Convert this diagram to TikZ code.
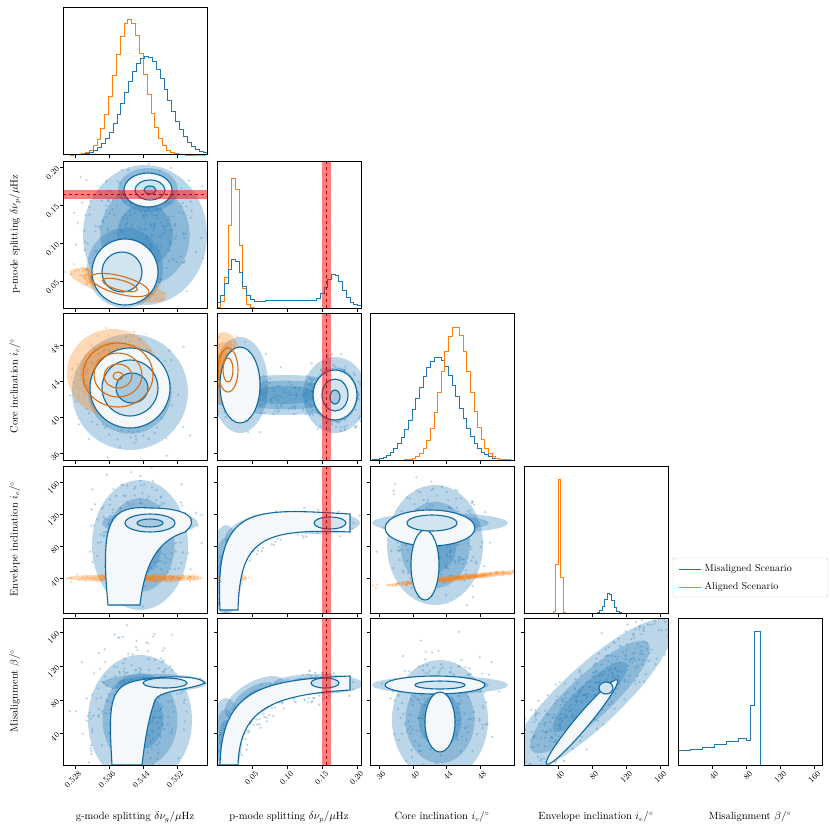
\documentclass[tikz,border=0pt]{standalone}
\usepackage{amsmath}
\definecolor{mblue}{HTML}{1F77B4}
\definecolor{cblue}{HTML}{0E6AA0}
\definecolor{morange}{HTML}{FF7F0E}
\tikzset{
  panel/.style={draw=black, line width=0.6pt},
  hist/.style={line width=0.8pt},
  ctr/.style={draw=cblue, line width=1.1pt},
  octr/.style={draw=morange!85!black, line width=1.1pt},
  lev/.style={fill=mblue!#1!white},
  dot/.style={fill opacity=0.3},
  haze/.style={fill opacity=0.3},
  tick/.style={line width=0.5pt},
  ticklab/.style={font=\fontsize{8.5}{9}\selectfont, rotate=45, inner sep=1pt},
  axlab/.style={font=\fontsize{10.5}{12}\selectfont},
  leglab/.style={font=\fontsize{10}{12}\selectfont},
  band/.style={fill=red, fill opacity=0.5},
  bandline/.style={draw=red!70!black, dashed, line width=0.9pt},
}
% gaussian-like cloud: cx cy sx sy n colour angle
\newcommand{\cloud}[7]{%
  \foreach \k in {1,...,#5}{
    \pgfmathsetmacro{\ua}{#3*(rand+rand+rand)/1.7}
    \pgfmathsetmacro{\ub}{#4*(rand+rand+rand)/1.7}
    \fill[#6, dot] ({#1+\ua*cos(#7)-\ub*sin(#7)},{#2+\ua*sin(#7)+\ub*cos(#7)}) circle (1.3);
  }}
% dense core of a cloud: cx cy rx ry angle colour
\newcommand{\blob}[6]{%
  \foreach \s in {1,0.72,0.45}
    \fill[#6, haze, rotate around={-#5:(#1,#2)}] (#1,#2) ellipse [x radius=\s*#3, y radius=\s*#4];
}
% cloud along a quadratic curve: x0 y0 x1 y1 x2 y2 spread n colour
\newcommand{\arccloud}[9]{%
  \foreach \k in {1,...,#8}{
    \pgfmathsetmacro{\tt}{rnd}
    \pgfmathsetmacro{\ua}{(1-\tt)^2*#1+2*\tt*(1-\tt)*#3+\tt^2*#5+#7*(rand+rand)/1.4}
    \pgfmathsetmacro{\ub}{(1-\tt)^2*#2+2*\tt*(1-\tt)*#4+\tt^2*#6+#7*(rand+rand)/1.4}
    \fill[#9, dot] (\ua,\ub) circle (1.3);
  }}
\begin{document}
\begin{tikzpicture}[x=1pt, y=-1pt]
  \useasboundingbox (0,0) rectangle (830,831);
  \pgfmathsetseed{42}
  % ---- row 1: g-mode histogram
  \draw[hist, morange] plot[const plot, domain=70:205, samples=36]
    (\x,{155-136*exp(-((\x-128)^2)/(2*15^2))});
  \draw[hist, mblue] plot[const plot, domain=70:207, samples=36]
    (\x,{155-99*exp(-((\x-145)^2)/(2*21^2))});
  % ---- row 2
  \begin{scope}
    \clip (63,161) rectangle (207,308);
    \cloud{140}{225}{50}{50}{260}{mblue}{0}
    \blob{145}{235}{62}{70}{0}{mblue}
    \blob{148}{190}{30}{22}{0}{mblue}
    \blob{125}{268}{38}{40}{0}{mblue}
    \cloud{120}{283}{35}{9}{180}{morange}{15}
    \blob{118}{285}{50}{12}{15}{morange}
    \draw[ctr, lev=5] (148,190) ellipse [x radius=24, y radius=17];
    \draw[ctr, lev=20] (150,190) ellipse [x radius=15, y radius=10];
    \draw[ctr, lev=40] (150,190) ellipse [x radius=6, y radius=4];
    \draw[ctr, lev=5] (125,272) ellipse [x radius=33, y radius=33];
    \draw[ctr, lev=20] (122,272) ellipse [x radius=20, y radius=20];
    \draw[octr, rotate around={-15:(120,285)}] (120,285) ellipse [x radius=30, y radius=9];
    \draw[octr, rotate around={-15:(120,285)}] (120,285) ellipse [x radius=18, y radius=5];
  \end{scope}
  \fill[band] (63,190) rectangle (207,199);
  \draw[bandline] (63,194.5) -- (207,194.5);
  \draw[hist, morange] plot[const plot, domain=217:361, samples=40]
    (\x,{308-134*exp(-((\x-233)^2)/(2*5^2))});
  \draw[hist, mblue] plot[const plot, domain=217:361, samples=40]
    (\x,{308-(45*exp(-((\x-233)^2)/(2*7^2))+29*exp(-((\x-333)^2)/(2*8^2))+8*exp(-((\x-285)^2)/(2*45^2)))});
  % ---- row 3
  \begin{scope}
    \clip (63,313) rectangle (207,460);
    \cloud{130}{392}{40}{40}{260}{mblue}{0}
    \blob{130}{392}{58}{58}{0}{mblue}
    \cloud{115}{375}{32}{32}{260}{morange}{0}
    \blob{113}{373}{46}{44}{0}{morange}
    \draw[ctr, lev=5] (130,388) ellipse [x radius=40, y radius=40];
    \draw[ctr, lev=20] (130,388) ellipse [x radius=28, y radius=28];
    \draw[ctr, lev=40] (132,388) ellipse [x radius=16, y radius=15];
    \draw[octr] (118,375) ellipse [x radius=35, y radius=32];
    \draw[octr] (118,375) ellipse [x radius=24, y radius=22];
    \draw[octr] (118,376) ellipse [x radius=14, y radius=12];
    \draw[octr] (118,376) ellipse [x radius=5, y radius=4];
  \end{scope}
  \begin{scope}
    \clip (217,313) rectangle (361,460);
    \cloud{240}{385}{22}{32}{150}{mblue}{0}
    \cloud{333}{395}{28}{30}{150}{mblue}{0}
    \cloud{285}{395}{60}{18}{150}{mblue}{0}
    \blob{240}{385}{28}{48}{0}{mblue}
    \blob{335}{395}{32}{38}{0}{mblue}
    \blob{285}{395}{75}{20}{0}{mblue}
    \cloud{225}{370}{15}{27}{150}{morange}{0}
    \blob{224}{368}{18}{36}{0}{morange}
    \draw[ctr, lev=5] (240,385) ellipse [x radius=20, y radius=38];
    \draw[ctr, lev=5] (335,395) ellipse [x radius=22, y radius=25];
    \draw[ctr, lev=20] (335,395) ellipse [x radius=13, y radius=16];
    \draw[ctr, lev=40] (335,397) ellipse [x radius=5, y radius=7];
    \draw[octr] (228,370) ellipse [x radius=10, y radius=22];
    \draw[octr] (228,370) ellipse [x radius=5, y radius=12];
  \end{scope}
  \draw[hist, mblue] plot[const plot, domain=372:514, samples=40]
    (\x,{460-103*exp(-((\x-436)^2)/(2*20^2))});
  \draw[hist, morange] plot[const plot, domain=372:514, samples=40]
    (\x,{460-134*exp(-((\x-454)^2)/(2*14^2))});
  % ---- row 4
  \begin{scope}
    \clip (63,466) rectangle (207,613);
    \cloud{140}{535}{38}{48}{260}{mblue}{0}
    \blob{140}{545}{48}{65}{0}{mblue}
    \blob{150}{523}{48}{12}{0}{mblue}
    \cloud{135}{578}{60}{3}{150}{morange}{0}
    \blob{135}{578}{68}{4}{0}{morange}
    \draw[ctr, lev=5] (108,605) .. controls (100,520) and (110,505) .. (150,508)
      .. controls (190,508) and (200,520) .. (185,532) .. controls (160,540) and (145,560) .. (140,605) -- cycle;
    \draw[ctr, lev=20] (150,523) ellipse [x radius=25, y radius=9];
    \draw[ctr, lev=40] (150,523) ellipse [x radius=13, y radius=4];
  \end{scope}
  \begin{scope}
    \clip (217,466) rectangle (361,613);
    \arccloud{222}{610}{222}{515}{345}{523}{12}{300}{mblue}
    \blob{226}{570}{16}{45}{0}{mblue}
    \blob{255}{530}{32}{14}{-20}{mblue}
    \blob{318}{523}{42}{11}{0}{mblue}
    \cloud{232}{578}{12}{4}{80}{morange}{0}
    \blob{232}{578}{15}{5}{0}{morange}
    \draw[ctr, lev=5] (220,610) .. controls (215,505) and (250,508) .. (350,514)
      -- (350,532) .. controls (260,528) and (240,540) .. (238,610) -- cycle;
    \draw[ctr, lev=20] (330,523) ellipse [x radius=16, y radius=6];
  \end{scope}
  \begin{scope}
    \clip (370,466) rectangle (514,613);
    \cloud{435}{540}{38}{45}{260}{mblue}{0}
    \blob{435}{545}{48}{60}{0}{mblue}
    \blob{440}{523}{68}{10}{0}{mblue}
    \cloud{457}{578}{65}{2}{150}{morange}{-6}
    \blob{457}{578}{72}{3}{-6}{morange}
    \draw[ctr, lev=5] (430,528) ellipse [x radius=45, y radius=18];
    \draw[ctr, lev=5] (425,565) ellipse [x radius=14, y radius=35];
    \draw[ctr, lev=20] (432,523) ellipse [x radius=25, y radius=8];
  \end{scope}
  \draw[hist, morange] plot[const plot, domain=524:668, samples=60]
    (\x,{613-134*exp(-((\x-558)^2)/(2*1.6^2))});
  \draw[hist, mblue] plot[const plot, domain=524:668, samples=60]
    (\x,{613-20*exp(-((\x-608)^2)/(2*4^2))});
  % ---- row 5
  \begin{scope}
    \clip (63,618) rectangle (207,765);
    \cloud{135}{705}{42}{55}{300}{mblue}{0}
    \blob{140}{720}{52}{65}{0}{mblue}
    \blob{155}{683}{52}{9}{0}{mblue}
    \draw[ctr, lev=5] (112,765) .. controls (108,700) and (110,685) .. (140,680)
      .. controls (170,675) and (200,676) .. (205,683) .. controls (190,690) and (160,690) .. (155,700)
      .. controls (148,720) and (145,740) .. (142,765) -- cycle;
    \draw[ctr, lev=20] (165,683) ellipse [x radius=22, y radius=5];
  \end{scope}
  \begin{scope}
    \clip (217,618) rectangle (361,765);
    \arccloud{222}{770}{235}{690}{345}{683}{14}{300}{mblue}
    \blob{226}{738}{16}{40}{0}{mblue}
    \blob{255}{698}{34}{16}{-30}{mblue}
    \blob{318}{684}{45}{10}{0}{mblue}
    \draw[ctr, lev=5] (220,765) .. controls (222,690) and (260,680) .. (350,676)
      -- (350,690) .. controls (270,695) and (240,710) .. (238,765) -- cycle;
    \draw[ctr, lev=20] (325,683) ellipse [x radius=14, y radius=5];
  \end{scope}
  \begin{scope}
    \clip (370,618) rectangle (514,765);
    \cloud{440}{710}{38}{48}{260}{mblue}{0}
    \blob{440}{720}{48}{60}{0}{mblue}
    \blob{440}{685}{68}{9}{0}{mblue}
    \draw[ctr, lev=5] (435,685) ellipse [x radius=50, y radius=9];
    \draw[ctr, lev=5] (440,722) ellipse [x radius=15, y radius=30];
    \draw[ctr, lev=20] (440,685) ellipse [x radius=25, y radius=4];
  \end{scope}
  \begin{scope}
    \clip (524,618) rectangle (668,765);
    \cloud{595}{692}{95}{24}{400}{mblue}{-43}
    \blob{590}{697}{110}{30}{-43}{mblue}
    \draw[ctr, lev=5, rotate around={50:(582,722)}] (582,722) ellipse [x radius=55, y radius=7];
    \draw[ctr, lev=20] (606,688) ellipse [x radius=7, y radius=6];
  \end{scope}
  \draw[hist, mblue] (678,750) -| (690,749) -| (702,747) -| (714,744) -| (726,741)
    -| (738,738) -| (746,740) -| (750,705) -| (754,631) -| (760,765) -- (822,765);
  % ---- red band in p-mode column
  \foreach \ya/\yb in {161/308, 313/460, 466/613, 618/765}{
    \fill[band] (322,\ya) rectangle (331,\yb);
    \draw[bandline] (326.5,\ya) -- (326.5,\yb);
  }
  % ---- panel frames
  \foreach \c/\x in {1/63, 2/217, 3/370, 4/524, 5/678}{
    \foreach \r/\y in {1/7, 2/161, 3/313, 4/466, 5/618}{
      \ifnum\c>\r\else \draw[panel] (\x,\y) rectangle +(144,147); \fi
    }
  }
  % ---- bottom ticks
  \foreach \yb in {154,308,460,613,765}{
    \foreach \xx in {75,109,143,177} \draw[tick] (\xx,\yb) -- +(0,3.5);}
  \foreach \yb in {308,460,613,765}{
    \foreach \xx in {252,287,322,357} \draw[tick] (\xx,\yb) -- +(0,3.5);}
  \foreach \yb in {460,613,765}{
    \foreach \xx in {379,413,446,480} \draw[tick] (\xx,\yb) -- +(0,3.5);}
  \foreach \yb in {613,765}{
    \foreach \xx in {558,592,626,660} \draw[tick] (\xx,\yb) -- +(0,3.5);}
  \foreach \xx in {712,746,780,814} \draw[tick] (\xx,765) -- +(0,3.5);
  % ---- left ticks
  \foreach \xl in {63}{
    \foreach \yy in {167,205,243,281} \draw[tick] (\xl,\yy) -- +(-3.5,0);}
  \foreach \xl in {63,217}{
    \foreach \yy in {345,381,417,453} \draw[tick] (\xl,\yy) -- +(-3.5,0);}
  \foreach \xl in {63,217,370}{
    \foreach \yy in {482,514,546,578} \draw[tick] (\xl,\yy) -- +(-3.5,0);}
  \foreach \xl in {63,217,370,524}{
    \foreach \yy in {632,666,700,733} \draw[tick] (\xl,\yy) -- +(-3.5,0);}
  % ---- tick labels
  \foreach \xx/\lab in {75/0.528, 109/0.536, 143/0.544, 177/0.552,
      252/0.05, 287/0.10, 322/0.15, 357/0.20, 379/36, 413/40, 446/44, 480/48,
      558/40, 592/80, 626/120, 660/160, 712/40, 746/80, 780/120, 814/160}
    \node[ticklab, anchor=north east] (bt\xx) at (\xx+3,769) {\lab};
  \foreach \yy/\lab in {167/0.20, 205/0.15, 243/0.10, 281/0.05,
      345/48, 381/44, 417/40, 453/36, 482/160, 514/120, 546/80, 578/40,
      632/160, 666/120, 700/80, 733/40}
    \node[ticklab, anchor=east] (lt\yy) at (59,\yy) {\lab};
  % ---- axis labels
  \node[axlab] (xg) at (135,817) {g-mode splitting $\delta\nu_g/\mu$Hz};
  \node[axlab] (xp) at (289,817) {p-mode splitting $\delta\nu_p/\mu$Hz};
  \node[axlab] (xc) at (442,817) {Core inclination $i_c/^\circ$};
  \node[axlab] (xe) at (596,817) {Envelope inclination $i_e/^\circ$};
  \node[axlab] (xm) at (750,817) {Misalignment $\beta/^\circ$};
  \node[axlab, rotate=90] (yp) at (15,234) {p-mode splitting $\delta\nu_p/\mu$Hz};
  \node[axlab, rotate=90] (yc) at (15,386) {Core inclination $i_c/^\circ$};
  \node[axlab, rotate=90] (ye) at (15,539) {Envelope inclination $i_e/^\circ$};
  \node[axlab, rotate=90] (ym) at (15,691) {Misalignment $\beta/^\circ$};
  % ---- legend
  \draw[draw=black!20, fill=white, rounded corners=2pt] (673,558) rectangle (828,597);
  \coordinate (la) at (679,569);
  \coordinate (lb) at (679,587);
  \draw[hist, mblue] (la) -- +(22,0) node[leglab, anchor=west, black] (lega) {Misaligned Scenario};
  \draw[hist, morange] (lb) -- +(22,0) node[leglab, anchor=west, black] (legb) {Aligned Scenario};
\end{tikzpicture}
\end{document}
